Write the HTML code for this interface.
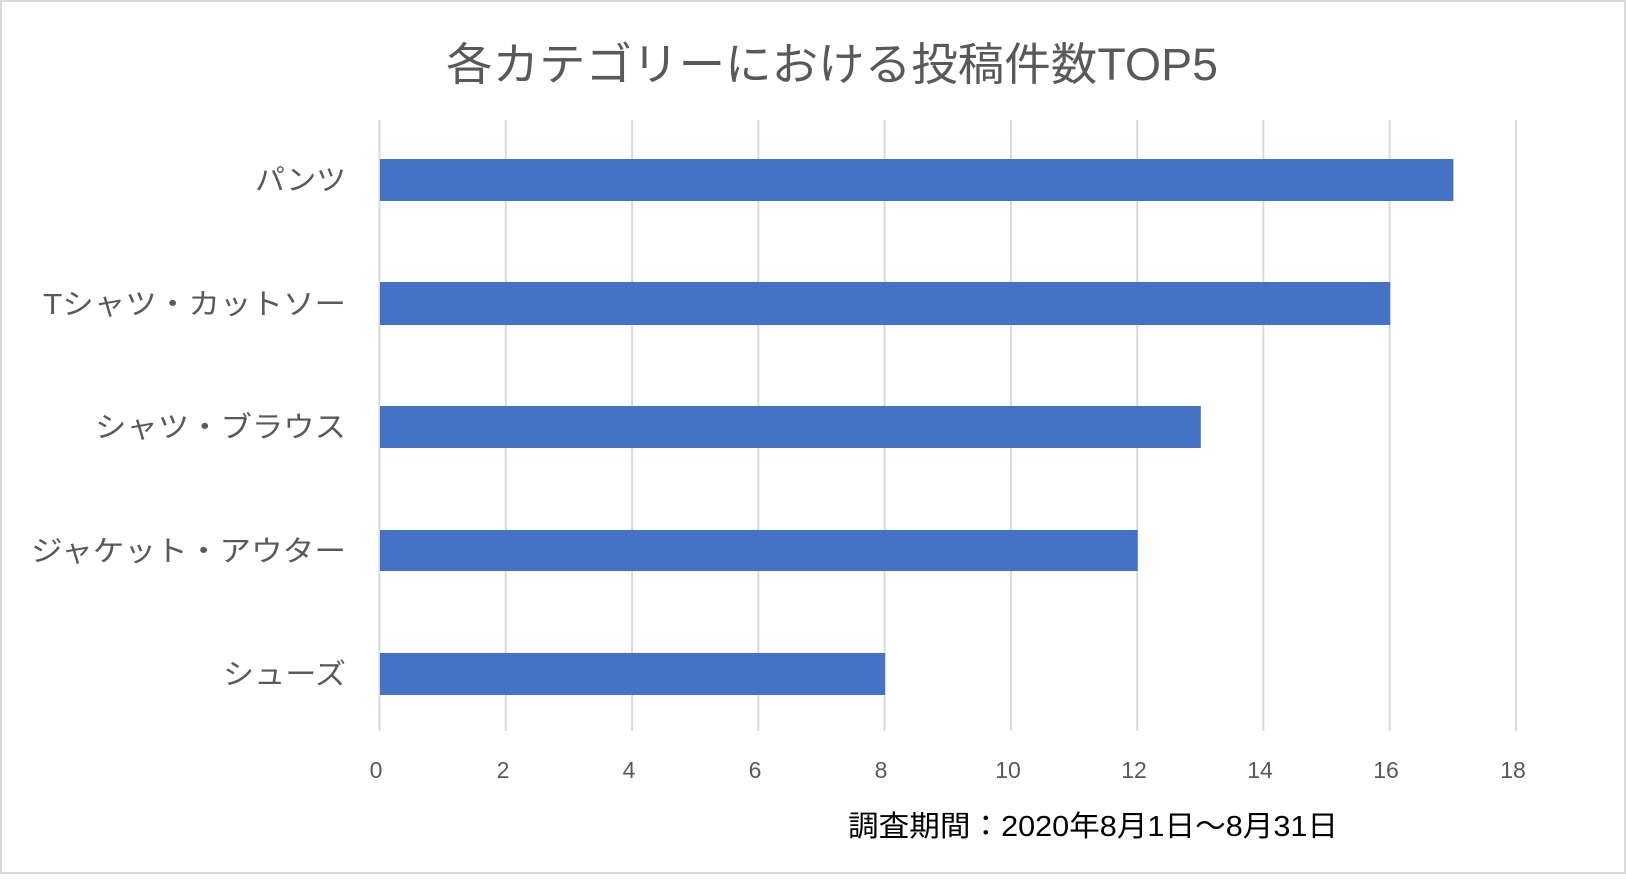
<!DOCTYPE html>
<html><head><meta charset="utf-8"><style>
html,body{margin:0;padding:0;background:#fff;}
svg text{font-family:"Liberation Sans","Noto Sans CJK JP",sans-serif;}
</style></head><body>
<svg width="1626" height="874" xmlns="http://www.w3.org/2000/svg">
<rect x="1" y="1" width="1624" height="872" fill="#fff" stroke="#d9d9d9" stroke-width="2"/>
<text x="446" y="80" font-size="45" fill="#595959" textLength="772" lengthAdjust="spacingAndGlyphs">各カテゴリーにおける投稿件数TOP5</text>
<g stroke="#d9d9d9" stroke-width="2">
<line x1="379.5" y1="120" x2="379.5" y2="731"/>
<line x1="505.8" y1="120" x2="505.8" y2="731"/>
<line x1="632.1" y1="120" x2="632.1" y2="731"/>
<line x1="758.3" y1="120" x2="758.3" y2="731"/>
<line x1="884.6" y1="120" x2="884.6" y2="731"/>
<line x1="1010.9" y1="120" x2="1010.9" y2="731"/>
<line x1="1137.2" y1="120" x2="1137.2" y2="731"/>
<line x1="1263.4" y1="120" x2="1263.4" y2="731"/>
<line x1="1389.7" y1="120" x2="1389.7" y2="731"/>
<line x1="1516" y1="120" x2="1516" y2="731"/>
</g>
<g fill="#4472c4">
<rect x="380" y="159" width="1073.4" height="42"/>
<rect x="380" y="282" width="1010.2" height="43"/>
<rect x="380" y="406" width="820.8" height="42"/>
<rect x="380" y="530" width="757.7" height="41"/>
<rect x="380" y="653" width="505.1" height="42"/>
</g>
<g font-size="29" fill="#595959" lengthAdjust="spacingAndGlyphs">
<text x="255" y="190" textLength="91" lengthAdjust="spacingAndGlyphs">パンツ</text>
<text x="43" y="314" textLength="303" lengthAdjust="spacingAndGlyphs">Tシャツ・カットソー</text>
<text x="95" y="437" textLength="251" lengthAdjust="spacingAndGlyphs">シャツ・ブラウス</text>
<text x="31" y="561" textLength="315" lengthAdjust="spacingAndGlyphs">ジャケット・アウター</text>
<text x="223" y="684" textLength="123" lengthAdjust="spacingAndGlyphs">シューズ</text>
</g>
<g font-size="23" fill="#595959" text-anchor="middle">
<text x="376" y="778">0</text>
<text x="503" y="778">2</text>
<text x="629" y="778">4</text>
<text x="755" y="778">6</text>
<text x="881" y="778">8</text>
<text x="1008" y="778">10</text>
<text x="1134" y="778">12</text>
<text x="1260" y="778">14</text>
<text x="1386" y="778">16</text>
<text x="1513" y="778">18</text>
</g>
<text x="848" y="836" font-size="29" fill="#000" textLength="490" lengthAdjust="spacingAndGlyphs">調査期間：2020年8月1日～8月31日</text>
</svg>
</body></html>
